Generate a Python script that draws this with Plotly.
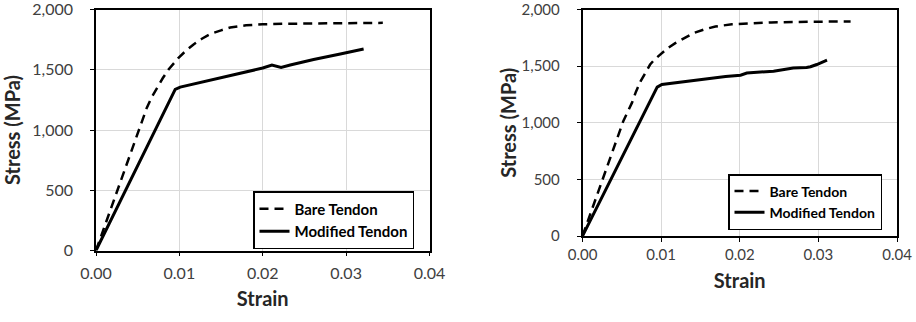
import plotly.graph_objects as go

# ---- data: left chart ----
left_bare_strain = [0, 0.0051, 0.0061, 0.0067, 0.0073, 0.0080, 0.0087, 0.0093, 0.0099, 0.0108, 0.0117, 0.0127,
                    0.0137, 0.0150, 0.0161, 0.0180, 0.0200, 0.0230, 0.0270, 0.0344]
left_bare_stress = [0, 996, 1186, 1275, 1352, 1430, 1503, 1555, 1600, 1660, 1711, 1758,
                    1797, 1828, 1852, 1870, 1878, 1883, 1887, 1890]
left_mod_strain = [0, 0.0095, 0.0101, 0.0157, 0.0200, 0.0211, 0.0222, 0.0233, 0.0261, 0.0293, 0.0321]
left_mod_stress = [0, 1338, 1357, 1450, 1515, 1540, 1520, 1540, 1586, 1632, 1673]

# ---- data: right chart ----
right_bare_strain = [0, 0.0052, 0.0063, 0.0068, 0.0074, 0.0080, 0.0086, 0.0092, 0.0099, 0.0108, 0.0118, 0.0130,
                     0.0141, 0.0155, 0.0169, 0.0190, 0.0210, 0.0240, 0.0290, 0.0341]
right_bare_stress = [0, 1017, 1178, 1275, 1368, 1445, 1515, 1562, 1603, 1658, 1704, 1752,
                     1792, 1825, 1851, 1870, 1879, 1887, 1893, 1895]
right_mod_strain = [0, 0.0095, 0.0101, 0.0141, 0.0182, 0.0201, 0.0209, 0.0243, 0.0268, 0.0285, 0.0290, 0.0298, 0.0311]
right_mod_stress = [0, 1315, 1339, 1377, 1410, 1421, 1440, 1456, 1485, 1488, 1495, 1515, 1553]

x_tickvals = [0, 0.01, 0.02, 0.03, 0.04]
y_tickvals = [0, 500, 1000, 1500, 2000]
x_title = "Strain"
y_title = "Stress (MPa)"
name_bare = "Bare Tendon"
name_mod = "Modified Tendon"

FONT = "Lato, 'Open Sans', sans-serif"
W, H = 916, 322

fig = go.Figure()
dash = "9px,6px"
fig.add_trace(go.Scatter(x=left_bare_strain, y=left_bare_stress, mode="lines", name=name_bare,
                         line=dict(color="black", width=2.5, dash=dash), xaxis="x", yaxis="y", legend="legend"))
fig.add_trace(go.Scatter(x=left_mod_strain, y=left_mod_stress, mode="lines", name=name_mod,
                         line=dict(color="black", width=3), xaxis="x", yaxis="y", legend="legend"))
fig.add_trace(go.Scatter(x=right_bare_strain, y=right_bare_stress, mode="lines", name=name_bare,
                         line=dict(color="black", width=2.5, dash=dash), xaxis="x2", yaxis="y2", legend="legend2"))
fig.add_trace(go.Scatter(x=right_mod_strain, y=right_mod_stress, mode="lines", name=name_mod,
                         line=dict(color="black", width=3), xaxis="x2", yaxis="y2", legend="legend2"))


def px_x(p):
    return p / W


def px_y(p):
    return (H - p) / H


def xaxis(domain, anchor, size, label_standoff, standoff_title):
    return dict(domain=domain, anchor=anchor, range=[0, 0.04], tickvals=x_tickvals, tickformat=".2f",
                showgrid=True, gridcolor="#d9d9d9", gridwidth=1, zeroline=False,
                showline=True, linecolor="black", linewidth=1.5, mirror=True,
                ticks="outside", ticklen=4, tickcolor="black", tickwidth=1, ticklabelstandoff=label_standoff,
                ticklabeloverflow="allow", automargin=False,
                tickfont=dict(family=FONT, size=size, color="#404040"),
                title=dict(text=x_title, standoff=standoff_title,
                           font=dict(family=FONT, size=20, color="#262626", weight="bold")))


def yaxis(domain, anchor, size, standoff_title):
    return dict(domain=domain, anchor=anchor, range=[0, 2001], tickvals=y_tickvals, tickformat=",",
                showgrid=True, gridcolor="#d9d9d9", gridwidth=1, zeroline=False,
                showline=True, linecolor="black", linewidth=1.5, mirror=True,
                ticks="outside", ticklen=4, tickcolor="black", tickwidth=1, ticklabelstandoff=14,
                ticklabeloverflow="allow", automargin=False,
                tickfont=dict(family=FONT, size=size, color="#404040"),
                title=dict(text=y_title, standoff=standoff_title,
                           font=dict(family=FONT, size=20, color="#262626", weight="bold")))


fig.update_layout(
    width=W, height=H, margin=dict(l=0, r=0, t=0, b=0, autoexpand=False),
    paper_bgcolor="white", plot_bgcolor="white",
    showlegend=True,
    xaxis=xaxis([px_x(96), px_x(429.5)], "y", 16, 4, 11),
    yaxis=yaxis([px_y(250.5), px_y(9.5)], "x", 16, 14),
    xaxis2=xaxis([px_x(582.5), px_x(897)], "y2", 15, 0, 12),
    yaxis2=yaxis([px_y(236), px_y(9.5)], "x2", 15, 0),
    legend=dict(x=px_x(414), y=px_y(191), xanchor="right", yanchor="top",
                bgcolor="white", bordercolor="black", borderwidth=1.5, itemwidth=30,
                font=dict(family=FONT, size=15, color="black", weight="bold"), tracegroupgap=0),
    legend2=dict(x=px_x(882), y=px_y(174), xanchor="right", yanchor="top",
                 bgcolor="white", bordercolor="black", borderwidth=1.5, itemwidth=30,
                 font=dict(family=FONT, size=14, color="black", weight="bold"), tracegroupgap=0),
)

fig.write_html("out.html")
